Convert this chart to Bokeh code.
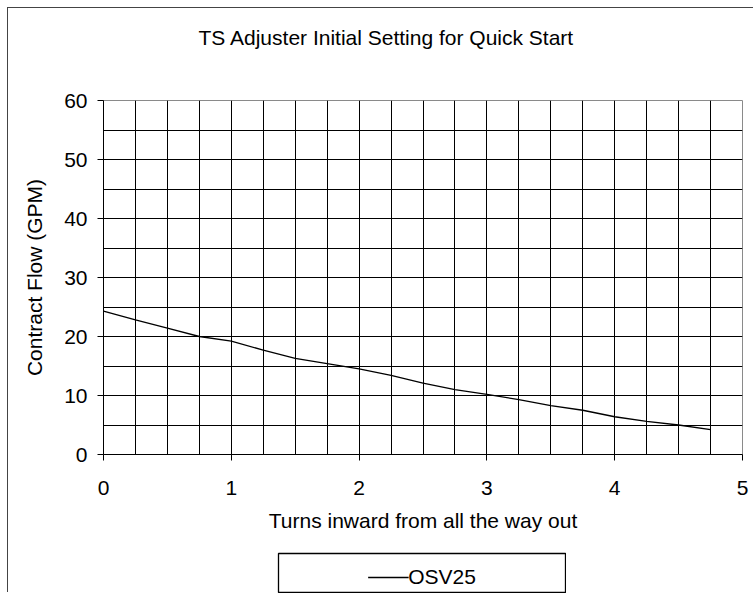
import numpy as np
from bokeh.plotting import figure
from bokeh.layouts import column
from bokeh.models import Range1d, FixedTicker, Legend, LegendItem
from bokeh.embed import file_html
from bokeh.resources import INLINE

# ---- data ----
title_text = "TS Adjuster Initial Setting for Quick Start"
x_label = "Turns inward from all the way out"
y_label = "Contract Flow (GPM)"
series_name = "OSV25"
turns = [0.0, 0.25, 0.5, 0.75, 1.0, 1.25, 1.5, 1.75, 2.0, 2.25,
         2.5, 2.75, 3.0, 3.25, 3.5, 3.75, 4.0, 4.25, 4.5, 4.75]
flow = [24.3, 22.8, 21.4, 20.0, 19.2, 17.7, 16.3, 15.4, 14.5, 13.4,
        12.1, 11.0, 10.2, 9.3, 8.3, 7.5, 6.4, 5.6, 5.0, 4.2]
x_ticks = [0, 1, 2, 3, 4, 5]
y_ticks = [0, 10, 20, 30, 40, 50, 60]
x_grid_step = 0.25
y_grid_step = 5

FONT = "Liberation Sans"
FS = "21px"

p = figure(width=746, height=544,
           output_backend="svg", toolbar_location=None,
           x_range=Range1d(0, 5), y_range=Range1d(0, 60),
           min_border=0, min_border_left=95, min_border_right=12,
           min_border_top=92, min_border_bottom=98)
p.frame_align = False
p.background_fill_color = "white"
p.border_fill_color = "white"
p.outline_line_color = "#8a8a8a"
p.outline_line_width = 1

# title
p.title.text = title_text
p.title.text_font = FONT
p.title.text_font_size = FS
p.title.text_font_style = "normal"
p.title.text_color = "black"
p.title.align = "left"
p.title.offset = 95
p.title.vertical_align = "top"
p.title.standoff = 0
p.title.padding = {"left": 0, "right": 0, "top": 0, "bottom": 50}

# grids
p.xgrid.ticker = FixedTicker(ticks=list(np.arange(x_grid_step, x_ticks[-1], x_grid_step)))
p.ygrid.ticker = FixedTicker(ticks=list(np.arange(y_grid_step, y_ticks[-1], y_grid_step)))
for g in (p.xgrid, p.ygrid):
    g.grid_line_color = "black"
    g.grid_line_width = 1
    g.grid_line_alpha = 1

# axes
p.xaxis.ticker = FixedTicker(ticks=x_ticks)
p.yaxis.ticker = FixedTicker(ticks=y_ticks)
for ax in (p.xaxis, p.yaxis):
    ax.axis_line_color = "black"
    ax.axis_line_width = 1
    ax.major_tick_line_color = "black"
    ax.major_tick_out = 6
    ax.major_tick_in = 0
    ax.minor_tick_line_color = None
    ax.major_label_text_font = FONT
    ax.major_label_text_font_size = FS
    ax.major_label_text_color = "black"
    ax.axis_label_text_font = FONT
    ax.axis_label_text_font_size = FS
    ax.axis_label_text_font_style = "normal"
    ax.axis_label_text_color = "black"
p.xaxis.axis_label = x_label
p.yaxis.axis_label = y_label
p.xaxis.major_label_standoff = 20
p.xaxis.axis_label_standoff = 11
p.yaxis.major_label_standoff = 10
p.yaxis.axis_label_standoff = 15

# series
p.line(turns, flow, line_color="black", line_width=1.3)

# legend box below the chart (the series is repeated here, out of view,
# only so that the legend can draw its key)
lg = figure(width=289, height=41, output_backend="svg", toolbar_location=None,
            x_range=Range1d(0, 5), y_range=Range1d(-2, -1),
            x_axis_location=None, y_axis_location=None,
            min_border=0, min_border_left=1, min_border_right=1,
            min_border_top=1, min_border_bottom=0)
lg.frame_align = False
lg.grid.visible = False
lg.background_fill_color = "white"
lg.border_fill_color = "white"
lg.outline_line_color = "black"
lg.outline_line_width = 1.3
lg.margin = (0, 0, 0, 269)
key = lg.line(turns, flow, line_color="black", line_width=1.3)
legend = Legend(items=[LegendItem(label=series_name, renderers=[key])],
                location="bottom", orientation="horizontal",
                border_line_alpha=0, background_fill_alpha=0,
                padding=0, margin=4,
                glyph_width=41, glyph_height=20, label_height=20,
                label_standoff=0,
                label_text_font=FONT, label_text_font_size=FS,
                label_text_color="black")
lg.add_layout(legend)

page = column(p, lg, spacing=0)
page.styles = {"margin-left": "8px", "margin-top": "8px",
               "box-shadow": "-1px -1px 0 0 #444"}

open("out.html", "w").write(file_html(page, INLINE))
